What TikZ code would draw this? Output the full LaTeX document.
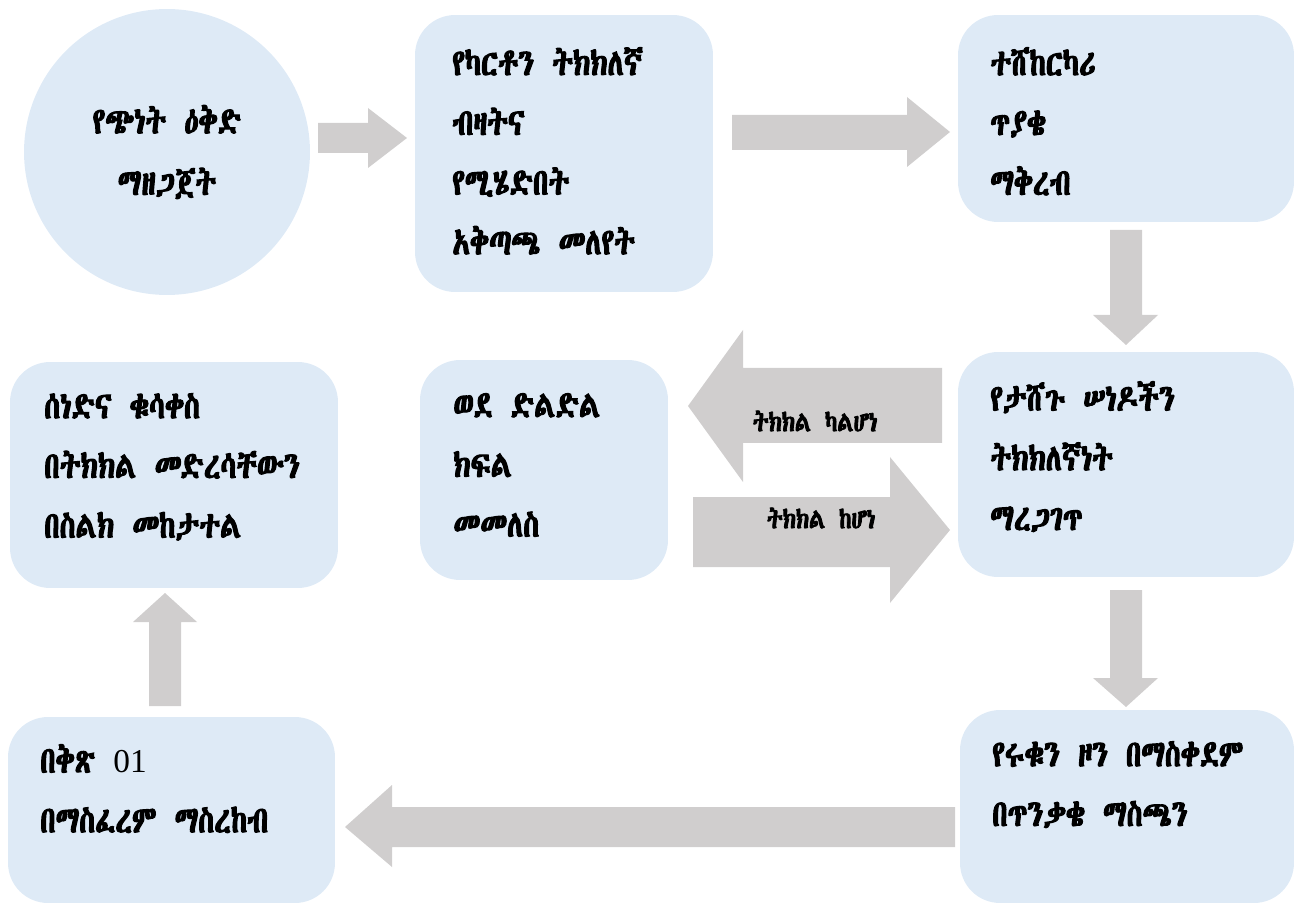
\documentclass[tikz,border=0pt]{standalone}
\usepackage{fontspec}
\setmainfont{Liberation Serif}
\IfFontExistsTF{Abyssinica SIL}{\newfontfamily\geez[FakeBold=3,FakeStretch=0.78,WordSpace=1.4]{Abyssinica SIL}}{%
  \IfFontExistsTF{FreeSerif}{\newfontfamily\geez[FakeBold=3,FakeStretch=0.78,WordSpace=1.4]{FreeSerif}}{%
    \IfFontExistsTF{Noto Sans Ethiopic}{\newfontfamily\geez[FakeBold=1.5,FakeStretch=0.78,WordSpace=1.4]{Noto Sans Ethiopic}}{%
      \newfontfamily\geez{DejaVu Sans}}}}
\usepackage{tikz}
\usetikzlibrary{positioning}

\definecolor{boxblue}{HTML}{DEEAF6}
\definecolor{arrowgray}{HTML}{D0CECE}

\begin{document}
\begin{tikzpicture}[x=0.02cm,y=-0.02cm,
  box/.style={rounded corners=0.8cm,fill=boxblue,inner sep=0pt},
  boxtext/.style={anchor=north west,align=left,inner sep=0pt,font=\geez\fontsize{21pt}{34pt}\selectfont},
  blockarrow/.style={fill=arrowgray},
  arrowtext/.style={inner sep=0pt,font=\geez\fontsize{16pt}{16pt}\selectfont}]
  \useasboundingbox (0,0) rectangle (1295,905);

  \node at (167,152) [circle,fill=boxblue,minimum size=5.72cm,align=center,
    font=\geez\fontsize{21pt}{35pt}\selectfont] (plan) {
    የጭነት ዕቅድ\\
    ማዘጋጀት
  };

  \node at (564,153.5) [box,minimum width=5.96cm,minimum height=5.54cm] (cartons) {};
  \node at (452,47) [boxtext] (cartonstext) {
    የካርቶን ትክክለኛ\\
    ብዛትና\\
    የሚሄድበት\\
    አቅጣጫ መለየት
  };

  \node at (1126,118.5) [box,minimum width=6.72cm,minimum height=4.14cm] (request) {};
  \node at (990,47) [boxtext] (requesttext) {
    ተሸከርካሪ\\
    ጥያቄ\\
    ማቅረብ
  };

  \node at (1126,464.5) [box,minimum width=6.72cm,minimum height=4.5cm] (verify) {};
  \node at (990,381) [boxtext] (verifytext) {
    የታሸጉ ሠነዶችን\\
    ትክክለኛነት\\
    ማረጋገጥ
  };

  \node at (544,470) [box,minimum width=4.96cm,minimum height=4.4cm] (return) {};
  \node at (453,393) [boxtext] (returntext) {
    ወደ ድልድል\\
    ክፍል\\
    መመለስ
  };

  \node at (174,475) [box,minimum width=6.56cm,minimum height=4.52cm] (follow) {};
  \node at (44,393) [boxtext] (followtext) {
    ሰነድና ቁሳቀስ\\
    በትክክል መድረሳቸውን\\
    በስልክ መከታተል
  };

  \node at (171.5,810) [box,minimum width=6.54cm,minimum height=3.72cm] (handover) {};
  \node at (40,744) [boxtext] (handovertext) {
    በቅጽ {\rmfamily\fontsize{19pt}{34pt}\selectfont 01}\\
    በማስፈረም ማስረከብ
  };

  \node at (1127,806.5) [box,minimum width=6.68cm,minimum height=3.86cm] (load) {};
  \node at (992,741) [boxtext] (loadtext) {
    የሩቁን ዞን በማስቀደም\\
    በጥንቃቄ ማስጫን
  };

  % block arrows
  \fill[blockarrow] (318,123) -- (368,123) -- (368,108) -- (407,138) -- (368,168) -- (368,153) -- (318,153) -- cycle;
  \fill[blockarrow] (732,115) -- (907,115) -- (907,97) -- (950,132) -- (907,167) -- (907,150) -- (732,150) -- cycle;
  \fill[blockarrow] (1110,230) -- (1142,230) -- (1142,315) -- (1158,315) -- (1126,345) -- (1093,315) -- (1110,315) -- cycle;
  \fill[blockarrow] (942,368) -- (743,368) -- (743,330) -- (688,406) -- (743,482) -- (743,443) -- (942,443) -- cycle;
  \fill[blockarrow] (693,497) -- (890,497) -- (890,457) -- (950,530) -- (890,603) -- (890,567) -- (693,567) -- cycle;
  \fill[blockarrow] (1110,590) -- (1142,590) -- (1142,678) -- (1158,678) -- (1126,707) -- (1093,678) -- (1110,678) -- cycle;
  \fill[blockarrow] (955,807) -- (392,807) -- (392,785) -- (345,827) -- (392,867) -- (392,847) -- (955,847) -- cycle;
  \fill[blockarrow] (149,706) -- (149,622) -- (133,622) -- (165,593) -- (197,622) -- (181,622) -- (181,706) -- cycle;

  \node at (815,421) [arrowtext] (notok) {ትክክል ካልሆነ};
  \node at (821,518) [arrowtext] (ok) {ትክክል ከሆነ};
\end{tikzpicture}
\end{document}
